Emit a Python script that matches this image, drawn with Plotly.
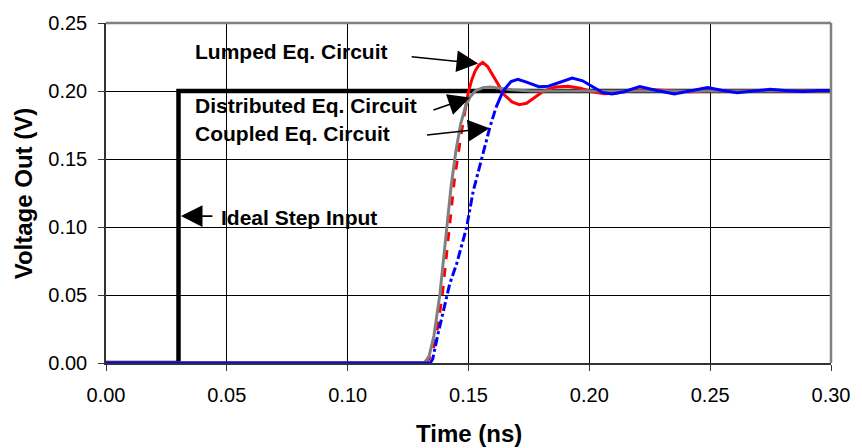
import plotly.graph_objects as go

# ---- data ----
step_t = [0.0, 0.03, 0.03, 0.30]
step_v = [0.0, 0.0, 0.2, 0.2]

lumped_t = [0.0, 0.1317, 0.1337, 0.1357, 0.1367, 0.1392, 0.1420, 0.1441, 0.1471, 0.1485, 0.1498,
            0.1513, 0.1528, 0.1543, 0.1559, 0.1579, 0.1599, 0.1619, 0.1649, 0.1680, 0.1710,
            0.1740, 0.1770, 0.1811, 0.1861, 0.1912, 0.1962, 0.2012, 0.2063, 0.2113, 0.2163,
            0.2214, 0.2264, 0.2315, 0.2416, 0.2517, 0.2617, 0.2718, 0.2819, 0.300]
lumped_v = [0.0, 0.0, 0.003, 0.012, 0.020, 0.051, 0.0996, 0.134, 0.170, 0.185, 0.198,
            0.208, 0.215, 0.219, 0.221, 0.218, 0.212, 0.205, 0.197, 0.192, 0.190,
            0.191, 0.195, 0.200, 0.203, 0.2035, 0.202, 0.1995, 0.198, 0.1985, 0.200,
            0.2008, 0.201, 0.2003, 0.1995, 0.2002, 0.1998, 0.2002, 0.200, 0.200]

dist_t = [0.0, 0.1317, 0.1337, 0.1357, 0.1382, 0.1407, 0.1428, 0.1448, 0.1468, 0.1488,
          0.1508, 0.1528, 0.1559, 0.1589, 0.1629, 0.1680, 0.1760, 0.300]
dist_v = [0.0, 0.0, 0.005, 0.020, 0.051, 0.096, 0.130, 0.156, 0.176, 0.189,
          0.196, 0.200, 0.2025, 0.203, 0.202, 0.201, 0.200, 0.200]

coupled_t = [0.0, 0.1342, 0.1352, 0.1372, 0.1396, 0.1422, 0.1451, 0.1473, 0.1492, 0.1519,
             0.1553, 0.1588, 0.1614, 0.1642, 0.1676, 0.1704, 0.1740, 0.1791, 0.1831, 0.1871,
             0.1929, 0.1972, 0.2024, 0.2053, 0.2093, 0.2143, 0.2209, 0.2274, 0.2352, 0.2416,
             0.2489, 0.2547, 0.2612, 0.2678, 0.2748, 0.2819, 0.2885, 0.2950, 0.300]
coupled_v = [0.0, 0.0, 0.003, 0.020, 0.039, 0.058, 0.073, 0.088, 0.0996, 0.126,
             0.150, 0.173, 0.188, 0.1996, 0.207, 0.2086, 0.2065, 0.2032, 0.2035, 0.206,
             0.2095, 0.2075, 0.202, 0.199, 0.1979, 0.1995, 0.2032, 0.2005, 0.1979, 0.200,
             0.2025, 0.2005, 0.1988, 0.200, 0.2012, 0.2002, 0.1996, 0.2003, 0.2003]

# where each rise is drawn broken (dashed / dash-dot)
lumped_dash = (0.1317, 0.1485)
coupled_dash = (0.1342, 0.1614)

x_ticks = [0.0, 0.05, 0.10, 0.15, 0.20, 0.25, 0.30]
y_ticks = [0.0, 0.05, 0.10, 0.15, 0.20, 0.25]

FONT = "Liberation Sans, Arial, sans-serif"


def split(t, v, t0, t1):
    a = ([ti for ti in t if ti <= t0], [vi for ti, vi in zip(t, v) if ti <= t0])
    b = ([ti for ti in t if t0 <= ti <= t1], [vi for ti, vi in zip(t, v) if t0 <= ti <= t1])
    c = ([ti for ti in t if ti >= t1], [vi for ti, vi in zip(t, v) if ti >= t1])
    return a, b, c


fig = go.Figure()

fig.add_trace(go.Scatter(x=step_t, y=step_v, mode="lines",
                         line=dict(color="black", width=4.5), cliponaxis=False))

la, lb, lc = split(lumped_t, lumped_v, *lumped_dash)
fig.add_trace(go.Scatter(x=la[0], y=la[1], mode="lines", line=dict(color="#ff0000", width=3), cliponaxis=False))
fig.add_trace(go.Scatter(x=lb[0], y=lb[1], mode="lines", line=dict(color="#ff0000", width=3, dash="dash"), cliponaxis=False))
fig.add_trace(go.Scatter(x=lc[0], y=lc[1], mode="lines", line=dict(color="#ff0000", width=3), cliponaxis=False))

fig.add_trace(go.Scatter(x=dist_t, y=dist_v, mode="lines",
                         line=dict(color="#808080", width=3), cliponaxis=False))

ca, cb, cc = split(coupled_t, coupled_v, *coupled_dash)
fig.add_trace(go.Scatter(x=ca[0], y=ca[1], mode="lines", line=dict(color="#0000ff", width=3), cliponaxis=False))
fig.add_trace(go.Scatter(x=cb[0], y=cb[1], mode="lines", line=dict(color="#0000ff", width=3, dash="dashdot"), cliponaxis=False))
fig.add_trace(go.Scatter(x=cc[0], y=cc[1], mode="lines", line=dict(color="#0000ff", width=3), cliponaxis=False))

axis_common = dict(showgrid=True, gridcolor="black", gridwidth=1, zeroline=False,
                   showline=True, linecolor="#333333", linewidth=1.5,
                   ticks="outside", ticklen=6, tickcolor="#333333", tickwidth=1,
                   tickfont=dict(family=FONT, size=20, color="black"),
                   tickformat=".2f")

fig.update_layout(
    width=862, height=448,
    margin=dict(l=106, r=24, t=21, b=85),
    plot_bgcolor="white", paper_bgcolor="white",
    showlegend=False,
    xaxis=dict(range=[0, 0.30], tickvals=x_ticks, ticklabelstandoff=7, **axis_common),
    yaxis=dict(range=[0, 0.25], tickvals=y_ticks, ticklabelstandoff=7, **axis_common),
    shapes=[
        dict(type="line", xref="paper", yref="paper", x0=0, x1=1, y0=1, y1=1,
             line=dict(color="#808080", width=2.5)),
        dict(type="line", xref="paper", yref="paper", x0=1, x1=1, y0=0, y1=1,
             line=dict(color="#808080", width=2.5)),
    ],
)

# axis titles
fig.add_annotation(text="<b>Time (ns)</b>", xref="paper", yref="paper", x=0.501, y=-0.208,
                   showarrow=False, font=dict(family=FONT, size=24, color="black"),
                   xanchor="center", yanchor="middle")
fig.add_annotation(text="<b>Voltage Out (V)</b>", xref="paper", yref="paper", x=-0.114, y=0.5,
                   showarrow=False, textangle=-90, font=dict(family=FONT, size=24, color="black"),
                   xanchor="center", yanchor="middle")

# labels
labels = [
    ("Lumped Eq. Circuit", 0.0361, 0.2290),
    ("Distributed Eq. Circuit", 0.0361, 0.1895),
    ("Coupled Eq. Circuit", 0.0361, 0.1690),
    ("Ideal Step Input", 0.0467, 0.1070),
]
for txt, x, y in labels:
    fig.add_annotation(text="<b>" + txt + "</b>", x=x, y=y, xref="x", yref="y",
                       showarrow=False, xanchor="left", yanchor="middle",
                       font=dict(family=FONT, size=21, color="black"))

# arrows (tip in data coords, tail offset in pixels)
arrows = [
    (0.1540, 0.2202, -68, -7),
    (0.1506, 0.1952, -38, 13),
    (0.1587, 0.1727, -64, 7),
    (0.0310, 0.1080, 33, 0),
]
for x, y, ax, ay in arrows:
    fig.add_annotation(text="", x=x, y=y, xref="x", yref="y", ax=ax, ay=ay,
                       showarrow=True, arrowhead=2, arrowsize=2.7, arrowwidth=1.6,
                       arrowcolor="black", standoff=0)

fig.write_html("out.html")
